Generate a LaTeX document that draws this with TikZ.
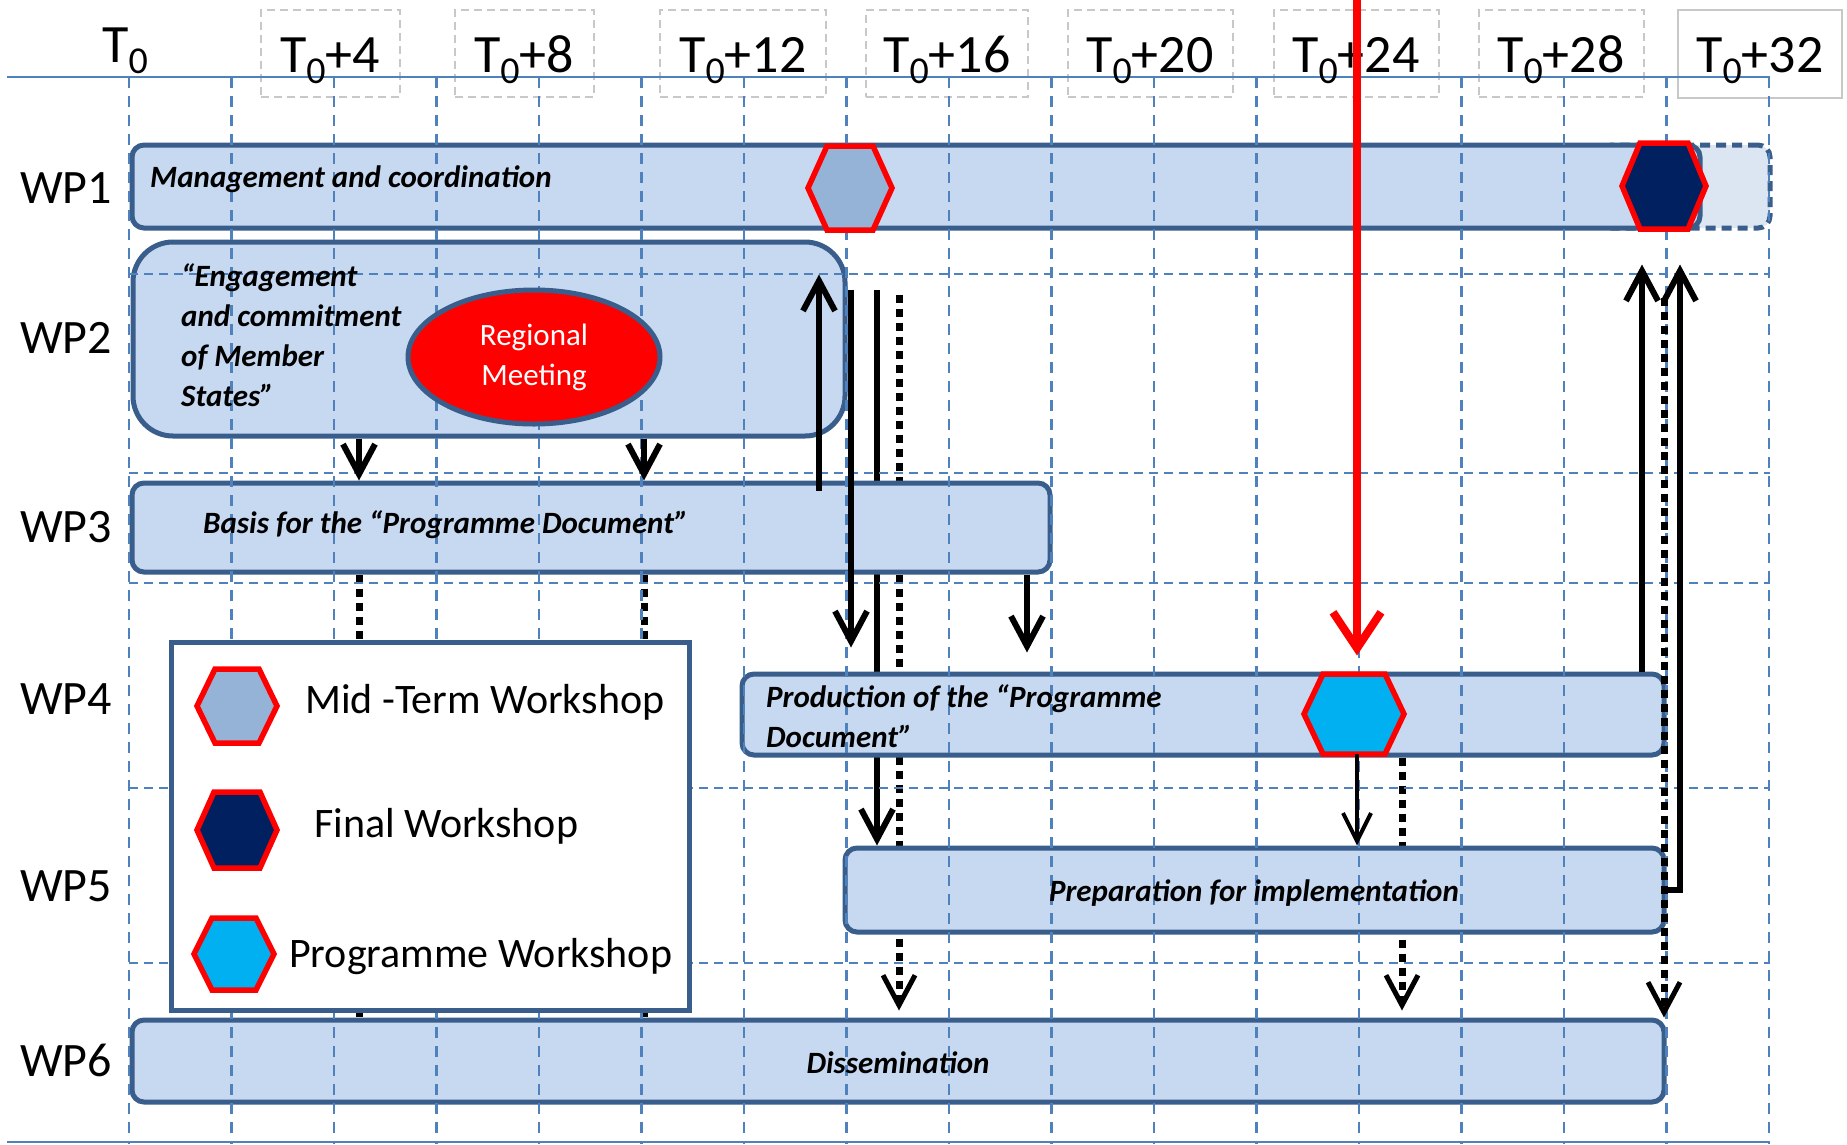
\documentclass[tikz,border=0pt]{standalone}
\usepackage{fontspec}
\setmainfont{Carlito}
\usetikzlibrary{arrows.meta,shapes.geometric}
\pgfdeclarelayer{bg}
\pgfdeclarelayer{back}
\pgfdeclarelayer{gridlayer}
\pgfdeclarelayer{front}
\pgfsetlayers{bg,back,main,gridlayer,front}
\definecolor{barfill}{HTML}{C6D9F1}
\definecolor{barline}{HTML}{3A5E8C}
\definecolor{gridc}{HTML}{4F81BD}
\definecolor{midhex}{HTML}{95B3D7}
\definecolor{finhex}{HTML}{002060}
\definecolor{proghex}{HTML}{00B0F0}
\definecolor{extfill}{HTML}{DCE6F2}
\definecolor{hdrgray}{HTML}{C8C8C8}
\newcommand{\Tsub}{T\raisebox{-11pt}{\fontsize{38}{38}\selectfont 0}}
\newcommand{\hexat}[6]{\draw[hexline,fill=#6] (#1-#3,#2) -- (#1-#5,#2-#4) -- (#1+#5,#2-#4) -- (#1+#3,#2) -- (#1+#5,#2+#4) -- (#1-#5,#2+#4) -- cycle;}
\begin{document}
\begin{tikzpicture}[x=1pt,y=-1pt,
  bar/.style={draw=barline, line width=5pt, fill=barfill, rounded corners=12pt, inner sep=0pt},
  extbar/.style={draw=barline, line width=5pt, fill=extfill, rounded corners=12pt, inner sep=0pt, dash pattern=on 10pt off 6pt},
  gridv/.style={draw=gridc, line width=2.4pt, dash pattern=on 11pt off 8pt},
  gridh/.style={draw=gridc, line width=2.6pt, dash pattern=on 9pt off 6pt},
  axisl/.style={draw=gridc, line width=2.6pt},
  hdrbox/.style={draw=hdrgray, line width=2pt, dash pattern=on 8pt off 5pt, inner sep=0pt},
  hdrbox32/.style={draw=hdrgray, line width=2pt, inner sep=0pt},
  hexline/.style={draw=red, line width=5.5pt, line join=miter},
  arr/.style={draw=black, line width=6pt, -{Straight Barb[length=30pt,width=32pt]}},
  arrthin/.style={draw=black, line width=4pt, -{Straight Barb[length=28pt,width=28pt]}},
  redarr/.style={draw=red, line width=8pt, -{Straight Barb[length=36pt,width=48pt]}},
  dotl/.style={draw=black, line width=7pt, dash pattern=on 8pt off 6pt},
  dotarr/.style={dotl, -{Straight Barb[length=30pt,width=32pt,line width=5pt]}},
  wplab/.style={inner sep=0pt, font=\fontsize{48}{48}\selectfont},
  hdrtxt/.style={inner sep=0pt, font=\fontsize{54}{54}\selectfont, anchor=base},
  bartxt/.style={inner sep=0pt, font=\fontsize{31}{40}\selectfont\bfseries\itshape},
  legtxt/.style={inner sep=0pt, font=\fontsize{42}{42}\selectfont, anchor=base west},
  rmtxt/.style={inner sep=0pt, text=white, font=\fontsize{31}{40}\selectfont, align=center}
]
\useasboundingbox (0,0) rectangle (1847,1144);
\begin{pgfonlayer}{bg}
\fill[white] (0,0) rectangle (1847,1144);
\end{pgfonlayer}

% header boxes
\foreach \cx/\w/\nm in {330/139/h4, 524/139/h8, 743/166/h12, 947/162/h16, 1150/165/h20, 1356/165/h24, 1561/165/h28}
  \node[hdrbox, minimum width=\w pt, minimum height=87pt] (\nm) at (\cx,53.5) {};
\node[hdrbox32, minimum width=164pt, minimum height=88pt] (h32) at (1760,54) {};

% bars
\node[extbar, minimum width=170pt, minimum height=83pt] (wp1x) at (1685,186.5) {};
\node[bar, minimum width=1568pt, minimum height=83pt] (wp1) at (916,186.5) {};
\node[bar, rounded corners=40pt, minimum width=712pt, minimum height=194pt] (wp2) at (489,339) {};
\node[bar, minimum width=918pt, minimum height=89pt] (wp3) at (591,527.5) {};
\node[bar, minimum width=922pt, minimum height=81pt] (wp4) at (1203,714.5) {};
\node[bar, minimum width=819pt, minimum height=84pt] (wp5) at (1254.5,890) {};
\node[bar, minimum width=1532pt, minimum height=82pt] (wp6) at (898,1061) {};

% arrow columns
\coordinate (cA) at (359,0);
\coordinate (cB) at (644,0);
\coordinate (cC) at (819,0);
\coordinate (cD) at (851,0);
\coordinate (cE) at (877,0);
\coordinate (cF) at (899,0);
\coordinate (cG) at (1027,0);
\coordinate (cH) at (1357,0);
\coordinate (cI) at (1402,0);
\coordinate (cJ) at (1642,0);
\coordinate (cK) at (1664,0);
\coordinate (cL) at (1680,0);

% connectors hidden behind bars / legend
\begin{pgfonlayer}{back}
\draw[dotl] (wp3.south -| cA) -- (wp6.north -| cA);
\draw[dotl] (wp3.south -| cB) -- (wp6.north -| cB);
\draw[arr] ([yshift=-50pt]wp2.north -| cE) -- (wp5.north -| cE);
\draw[dotarr] ([yshift=-55pt]wp2.north -| cF) -- ([yshift=7pt]wp6.north -| cF);
\draw[dotarr] (wp4.south -| cI) -- ([yshift=7pt]wp6.north -| cI);
\end{pgfonlayer}

% grid
\begin{pgfonlayer}{gridlayer}
\foreach \k in {0,...,16} \draw[gridv] (129+102.5*\k,77) -- (129+102.5*\k,1144);
\foreach \yy in {274,473,583,788,963} \draw[gridh] (129,\yy) -- (1770,\yy);
\draw[axisl] (7,77) -- (1770,77);
\draw[axisl] (7,1142) -- (1770,1142);
\end{pgfonlayer}

\begin{pgfonlayer}{front}
% regional meeting
\node[ellipse, draw=barline, line width=5pt, fill=red, minimum width=252pt, minimum height=134pt, inner sep=0pt] (rm) at (534,357) {};
\node[rmtxt] (rmt) at (rm.center) {Regional\\Meeting};

% legend
\node[draw=barline, line width=5pt, fill=white, minimum width=518pt, minimum height=368pt, inner sep=0pt] (leg) at (430,826) {};

% hexagons
\coordinate (hmid) at (850,188);
\coordinate (hfin) at (1664,186);
\coordinate (hprog) at (1354,714);
\hexat{850}{188}{42}{42}{23}{midhex}
\hexat{1664}{186}{42}{43}{24}{finhex}
\hexat{1354}{714}{50}{40}{31}{proghex}
\hexat{237}{706}{40}{37}{22}{midhex}
\hexat{237}{830}{40}{38}{23}{finhex}
\hexat{234}{954}{40}{36}{22}{proghex}

% legend texts
\node[legtxt] (l1t) at (305,713) {Mid -Term Workshop};
\node[legtxt] (l2t) at (314,837) {Final Workshop};
\node[legtxt] (l3t) at (289,967) {Programme Workshop};

% row labels
\node[wplab] (r1) at (66,188) {WP1};
\node[wplab] (r2) at (66,338) {WP2};
\node[wplab] (r3) at (66,527) {WP3};
\node[wplab] (r4) at (66,699) {WP4};
\node[wplab] (r5) at (66,886) {WP5};
\node[wplab] (r6) at (66,1060) {WP6};

% header texts
\node[hdrtxt] (t0) at (125,62) {\Tsub};
\node[hdrtxt] (t4) at (330,72) {\Tsub+4};
\node[hdrtxt] (t8) at (524,72) {\Tsub+8};
\node[hdrtxt] (t12) at (743,72) {\Tsub+12};
\node[hdrtxt] (t16) at (947,72) {\Tsub+16};
\node[hdrtxt] (t20) at (1150,72) {\Tsub+20};
\node[hdrtxt] (t24) at (1356,72) {\Tsub+24};
\node[hdrtxt] (t28) at (1561,72) {\Tsub+28};
\node[hdrtxt] (t32) at (1760,72) {\Tsub+32};

% bar texts
\node[bartxt, anchor=base west] (b1) at (150,187) {Management and coordination};
\node[bartxt, anchor=north west, align=left] (b2) at (181,263) {“Engagement\\and commitment\\of Member\\States”};
\node[bartxt, anchor=base west] (b3) at (203,533) {Basis for the “Programme Document”};
\node[bartxt, anchor=north west, align=left] (b4) at (766,684) {Production of the “Programme\\Document”};
\node[bartxt, anchor=base] (b5) at (1254,901) {Preparation for implementation};
\node[bartxt, anchor=base] (b6) at (898,1073) {Dissemination};

% visible connectors
\draw[arr] (wp2.south -| cA) -- (wp3.north -| cA);
\draw[arr] (wp2.south -| cB) -- (wp3.north -| cB);
\draw[arr] ([yshift=-10pt]wp3.north -| cC) -- ([yshift=-35pt]wp2.north -| cC);
\draw[arr] ([yshift=-50pt]wp2.north -| cD) -- ([yshift=24pt]wp4.north -| cD);
\draw[arr] (wp3.south -| cG) -- ([yshift=19pt]wp4.north -| cG);
\draw[redarr] (cH) -- ([yshift=16pt]wp4.north -| cH);
\draw[arrthin] ([yshift=-40pt]hprog -| cH) -- (wp5.north -| cH);
\draw[arr] (wp4.north -| cJ) -- ([yshift=-25pt]wp2.north -| cJ);
\draw[dotarr] ([yshift=-58pt]wp2.north -| cK) -- (wp6.north -| cK);
\draw[arr] (wp5.east) -- (wp5.east -| cL) -- ([yshift=-25pt]wp2.north -| cL);
\end{pgfonlayer}
\end{tikzpicture}
\end{document}
